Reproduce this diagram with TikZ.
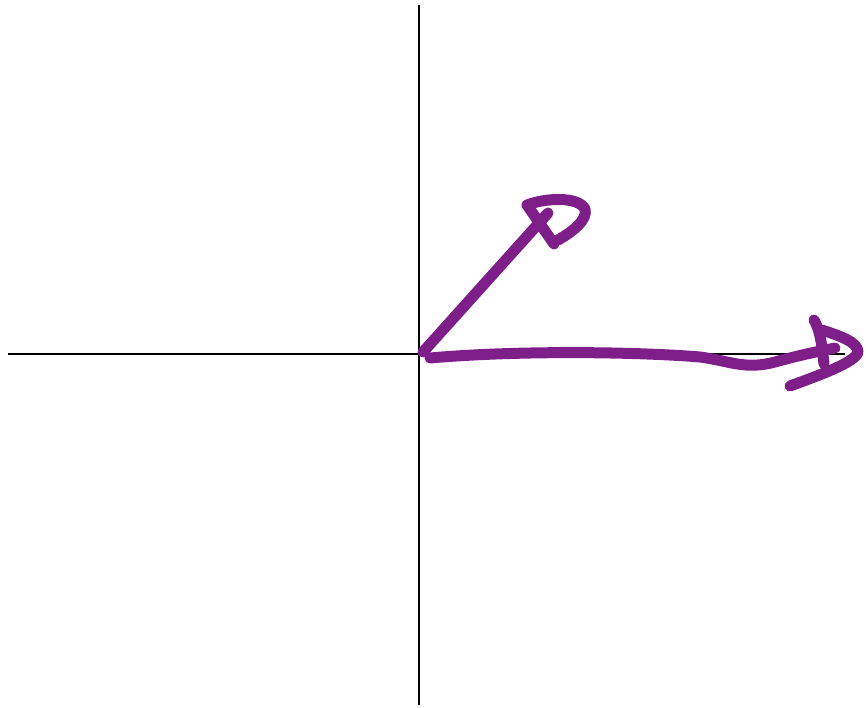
\documentclass[tikz,border=0pt]{standalone}
\definecolor{pen}{RGB}{125,30,137}
\begin{document}
\begin{tikzpicture}[x=1pt,y=-1pt,
  axis/.style={line width=2.8pt,black},
  ink/.style={line width=11pt,pen,line cap=round,line join=round}]
\useasboundingbox (0,0) rectangle (866,707);
\coordinate (top) at (419,5);
\coordinate (bot) at (419,705);
\coordinate (left) at (8,354);
\coordinate (right) at (845,354);
\coordinate (o) at (423,352);
\draw[axis] (top) -- (bot);
\draw[axis] (left) -- (right);
% diagonal arrow
\coordinate (d1) at (548,213);
\draw[ink] (o) -- (d1);
\draw[ink] (554,244) -- (527,205) .. controls (545,198) and (578,196) .. (585,209) .. controls (588,220) and (572,232) .. (558,240);
% horizontal arrow
\coordinate (h1) at (835,348);
\draw[ink] (430,358) .. controls (520,350) and (640,352) .. (700,357) .. controls (730,361) and (745,370) .. (775,362) .. controls (800,355) and (820,351) .. (h1);
\draw[ink] (814,320) .. controls (820,330) and (822,345) .. (824,364);
\draw[ink] (822,330) .. controls (840,336) and (858,342) .. (858,352) .. controls (856,362) and (820,375) .. (790,386);
\end{tikzpicture}
\end{document}
